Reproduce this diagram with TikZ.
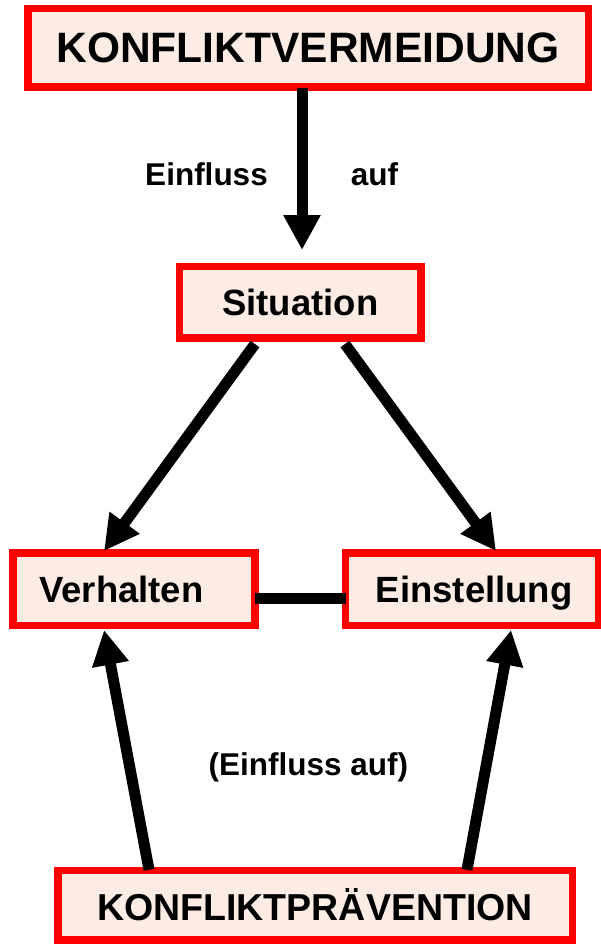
\documentclass[tikz,border=0pt]{standalone}
\usepackage{fontspec}
\setmainfont{Liberation Sans}
\usetikzlibrary{arrows.meta,calc}
\definecolor{boxfill}{RGB}{253,236,228}
\definecolor{boxred}{RGB}{255,0,0}
\begin{document}
\begin{tikzpicture}[x=1pt,y=-1pt,
  box/.style={draw=boxred, fill=boxfill, line width=7.5pt, inner sep=0pt},
  arr/.style={line width=11pt, -{Triangle[length=35pt,width=35pt]}},
  link/.style={line width=11.5pt},
  lbl/.style={font=\bfseries\fontsize{31.5}{36}\selectfont, inner sep=0pt}]
\useasboundingbox (0,0) rectangle (600,944);
\fill[white] (0,0) rectangle (600,944);
\node[box, minimum width=560.5pt, minimum height=78.5pt, font=\bfseries\fontsize{42.5}{48}\selectfont] (top) at (308,48) {KONFLIKTVERMEIDUNG};
\node[box, minimum width=241.8pt, minimum height=71.5pt, font=\bfseries\fontsize{36.5}{42}\selectfont] (sit) at (300.3,302.2) {Situation};
\node[box, minimum width=242.2pt, minimum height=72.5pt, text depth=0pt, font=\bfseries\fontsize{36.5}{42}\selectfont] (verh) at (133.9,589.3) {Verhalten\hspace*{25pt}};
\node[box, minimum width=253.2pt, minimum height=72.5pt, text depth=0pt, font=\bfseries\fontsize{36.5}{42}\selectfont] (einst) at (472.2,589.2) {\hspace*{4pt}Einstellung};
\node[box, minimum width=514.5pt, minimum height=69.5pt, font=\bfseries\fontsize{37.5}{42}\selectfont] (prev) at (315,905) {KONFLIKTPRÄVENTION};

\node[lbl] (l1) at (206.5,174.5) {Einfluss};
\node[lbl] (l2) at (374.5,174.5) {auf};
\node[lbl] (l3) at (308.3,767.4) {(Einfluss auf)};

\draw[arr] ($(top.south)+(-6,-3)$) -- ($(sit.north)+(1.7,-12.7)$);
\draw[arr] ($(sit.south west)+(79.3,2.3)$) -- ($(verh.north west)+(95,1.7)$);
\draw[arr] ($(sit.south east)+(-80,2.3)$) -- ($(einst.north west)+(154.2,1.8)$);
\draw[link] ($(verh.east)+(-4.2,9.2)$) -- ($(einst.west)+(4.2,9.3)$);
\draw[arr] ($(prev.north west)+(95,3.3)$) -- ($(verh.south west)+(95,0.7)$);
\draw[arr] ($(prev.north west)+(413,3.3)$) -- ($(einst.south west)+(169.2,0.8)$);
\end{tikzpicture}
\end{document}
